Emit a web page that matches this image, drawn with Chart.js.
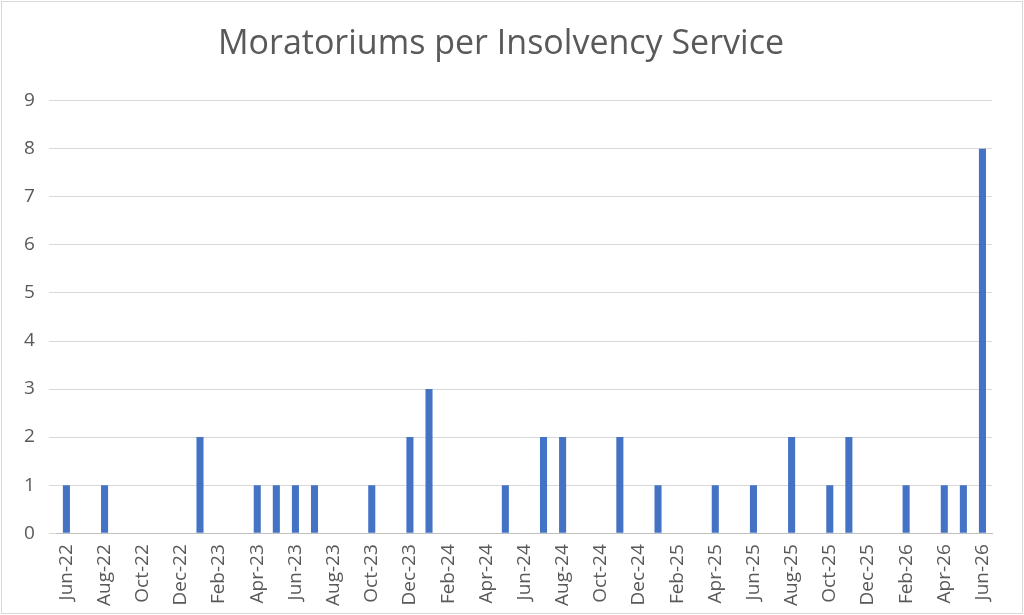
<!DOCTYPE html>
<html>
<head>
<meta charset="utf-8">
<script src="https://cdn.jsdelivr.net/npm/chart.js@4"></script>
<style>
  html, body { margin: 0; padding: 0; background: #fff; }
  #wrap { position: absolute; left: 1px; top: 1px; width: 1020px; height: 611px; border: 1px solid #d9d9d9; }
</style>
</head>
<body>
<div id="wrap"><canvas id="chart"></canvas></div>
<script>
const monthNames = ['Jan','Feb','Mar','Apr','May','Jun','Jul','Aug','Sep','Oct','Nov','Dec'];
const months = [];
for (let k = 0; k < 49; k++) {
  const m = (5 + k) % 12, y = 22 + Math.floor((5 + k) / 12);
  months.push(monthNames[m] + '-' + y);
}
const counts = {
  'Jun-22': 1, 'Aug-22': 1, 'Jan-23': 2, 'Apr-23': 1, 'May-23': 1, 'Jun-23': 1, 'Jul-23': 1,
  'Oct-23': 1, 'Dec-23': 2, 'Jan-24': 3, 'May-24': 1, 'Jul-24': 2, 'Aug-24': 2, 'Nov-24': 2,
  'Jan-25': 1, 'Apr-25': 1, 'Jun-25': 1, 'Aug-25': 2, 'Oct-25': 1, 'Nov-25': 2, 'Feb-26': 1,
  'Apr-26': 1, 'May-26': 1, 'Jun-26': 8,
};
const values = months.map(m => counts[m] || 0);

new Chart(document.getElementById('chart').getContext('2d'), {
  type: 'bar',
  data: {
    labels: months,
    datasets: [{ data: values, backgroundColor: '#4472C4', barPercentage: 0.37, categoryPercentage: 1 }],
  },
  options: {
    responsive: true,
    maintainAspectRatio: false,
    animation: false,
    layout: { padding: { left: 8, right: 30, top: 14, bottom: 4 } },
    plugins: {
      legend: { display: false },
      tooltip: { enabled: false },
      title: {
        display: true,
        text: 'Moratoriums per Insolvency Service',
        color: '#595959',
        font: { family: 'Open Sans', size: 34, weight: 'normal' },
        padding: { top: 8, bottom: 36 },
      },
    },
    scales: {
      x: {
        grid: { display: false },
        border: { color: '#bfbfbf' },
        ticks: {
          autoSkip: false,
          maxRotation: 90,
          minRotation: 90,
          color: '#595959',
          font: { family: 'Open Sans', size: 19 },
          callback: (v, i) => (i % 2 === 0 ? months[i] : ''),
        },
      },
      y: {
        min: 0,
        max: 9,
        grid: { color: '#d9d9d9' },
        border: { display: false },
        ticks: { stepSize: 1, color: '#595959', font: { family: 'Open Sans', size: 19 }, padding: 14 },
      },
    },
  },
});
</script>
</body>
</html>
